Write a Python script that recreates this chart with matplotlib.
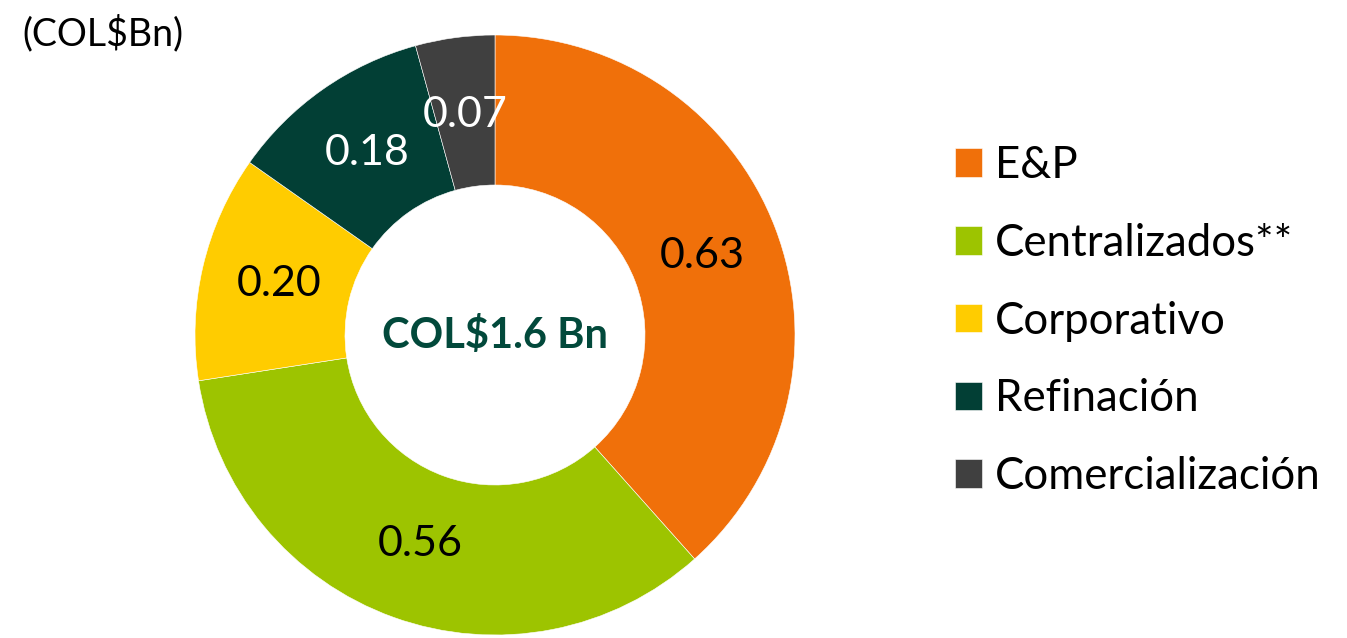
import matplotlib.pyplot as plt

segments = ["E&P", "Centralizados**", "Corporativo", "Refinación", "Comercialización"]
values = [0.63, 0.56, 0.20, 0.18, 0.07]
colors = ["#F0700A", "#9DC400", "#FFCC00", "#023F35", "#404040"]
label_colors = ["black", "black", "black", "white", "white"]
total_label = "COL$1.6 Bn"
unit_label = "(COL$Bn)"

plt.rcParams['font.family'] = ['Lato', 'DejaVu Sans']

fig = plt.figure(figsize=(13.47, 6.38), dpi=100)
ax = fig.add_axes([195 / 1347, 3 / 638, 600 / 1347, 600 / 638])

wedges, texts = ax.pie(values, colors=colors, startangle=90, counterclock=False,
                       radius=1.0, wedgeprops=dict(width=0.5, edgecolor='white', linewidth=0.4),
                       labels=[f"{v:.2f}" for v in values], labeldistance=0.74)
for t, c in zip(texts, label_colors):
    t.set_color(c)
    t.set_fontsize(31)
    t.set_ha('center')
    t.set_va('center')
ax.set_xlim(-1, 1)
ax.set_ylim(-1, 1)
ax.set_aspect('equal')

ax.text(0, 0, total_label, ha='center', va='center', fontsize=30,
        fontweight='bold', color='#02493B')

fig.text(22 / 1347, 1 - 33 / 638, unit_label, ha='left', va='center', fontsize=27)

fig.legend(wedges, segments, loc='center left', bbox_to_anchor=(955 / 1347, 1 - 321 / 638),
           frameon=False, fontsize=31.5, handlelength=0.62, handleheight=0.62,
           handletextpad=0.3, labelspacing=0.84, borderpad=0, borderaxespad=0)

fig.savefig("out.png", dpi=100)
